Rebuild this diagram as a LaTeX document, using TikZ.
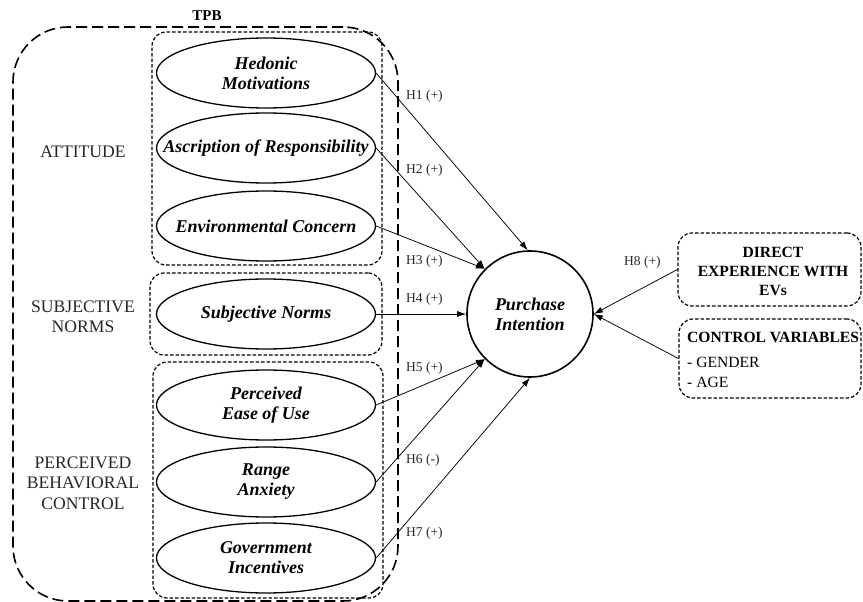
\documentclass[tikz,border=0pt]{standalone}
\usepackage{fontspec}
\setmainfont{Liberation Serif}
\usetikzlibrary{shapes.geometric,arrows.meta}
\begin{document}
\begin{tikzpicture}[x=1pt,y=-1pt,
 ell/.style={draw, line width=1.3pt, ellipse, minimum width=219pt, minimum height=70pt, inner sep=0pt},
 elltext/.style={font=\fontsize{18}{20}\selectfont\bfseries\itshape, align=center, inner sep=0pt},
 grp/.style={draw, line width=1.2pt, dash pattern=on 3.5pt off 2pt, rounded corners=14pt, inner sep=0pt},
 tpbbox/.style={draw, line width=1.6pt, dash pattern=on 11pt off 5pt, rounded corners=55pt, inner sep=0pt},
 side/.style={font=\fontsize{17.6}{20.5}\selectfont, align=center, text=black!85},
 hyp/.style={font=\fontsize{13.5}{15}\selectfont, anchor=west, inner sep=0pt, text=black!85},
 arr/.style={draw, line width=0.75pt, -{Latex[length=9pt,width=6pt]}},
 rbox/.style={font=\fontsize{15.6}{19}\selectfont},
]
\useasboundingbox (0,0) rectangle (863,602);

% outer TPB frame
\node[tpbbox, minimum width=385pt, minimum height=574pt] (tpb) at (205.5,314) {};
\node[font=\fontsize{15}{17}\selectfont\bfseries] (tpbl) at (207,16) {TPB};

% group boxes
\node[grp, minimum width=230pt, minimum height=233pt] (gatt) at (267,148.5) {};
\node[grp, minimum width=232pt, minimum height=82pt] (gsn) at (266,314) {};
\node[grp, minimum width=230pt, minimum height=236pt] (gpbc) at (268,480) {};

% side labels
\node[side] (latt) at (83,152) {ATTITUDE};
\node[side] (lsn) at (83,317) {SUBJECTIVE\\NORMS};
\node[side] (lpbc) at (83,483) {PERCEIVED\\BEHAVIORAL\\CONTROL};

% ellipses
\node[ell] (hm) at (266,73) {};
\node[elltext] at (hm) {Hedonic\\Motivations};
\node[ell] (ar) at (266,148) {};
\node[elltext] at (ar) {Ascription of Responsibility};
\node[ell] (ec) at (266,226) {};
\node[elltext] at (ec) {Environmental Concern};
\node[ell] (sn) at (266,314) {};
\node[elltext] at (sn) {Subjective Norms};
\node[ell] (pe) at (266,405) {};
\node[elltext] at (pe) {Perceived\\Ease of Use};
\node[ell] (ra) at (266,482) {};
\node[elltext] at (ra) {Range\\Anxiety};
\node[ell] (gi) at (266,558) {};
\node[elltext] at (gi) {Government\\Incentives};

% purchase intention
\node[draw, circle, line width=1.6pt, minimum size=126pt, inner sep=0pt] (pi) at (530,314) {};
\node[elltext] at (pi) {Purchase\\Intention};

% right boxes
\node[grp, minimum width=183pt, minimum height=73pt] (de) at (769.5,269.5) {};
\node[rbox, align=center, font=\fontsize{15.6}{19}\selectfont\bfseries] at (773,271) {DIRECT\\EXPERIENCE WITH\\EVs};
\node[grp, minimum width=182pt, minimum height=79pt] (cv) at (770,358.5) {};
\node[rbox, anchor=west, inner sep=0pt, font=\fontsize{15.6}{19}\selectfont\bfseries] at (687,337) {CONTROL VARIABLES};
\node[rbox, anchor=west, inner sep=0pt] at (687,362) {- GENDER};
\node[rbox, anchor=west, inner sep=0pt] at (687,382) {- AGE};

% hypothesis labels
\node[hyp] (h1) at (406,96) {H1 (+)};
\node[hyp] (h2) at (406,170) {H2 (+)};
\node[hyp] (h3) at (406,261) {H3 (+)};
\node[hyp] (h4) at (406,299) {H4 (+)};
\node[hyp] (h5) at (406,368) {H5 (+)};
\node[hyp] (h6) at (406,460) {H6 (-)};
\node[hyp] (h7) at (406,533) {H7 (+)};
\node[hyp] (h8) at (624,262) {H8 (+)};

% arrows
\draw[arr] (hm.east) -- (pi.92);
\draw[arr] (ar.east) -- (pi.135);
\draw[arr] (ec.east) -- (pi.135);
\draw[arr] (sn.east) -- (pi.west);
\draw[arr] (pe.east) -- (pi.225);
\draw[arr] (ra.east) -- (pi.225);
\draw[arr] (gi.east) -- (pi.270);
\draw[arr] (de.west) -- (pi.east);
\draw[arr] (cv.west) -- (pi.east);
\end{tikzpicture}
\end{document}
